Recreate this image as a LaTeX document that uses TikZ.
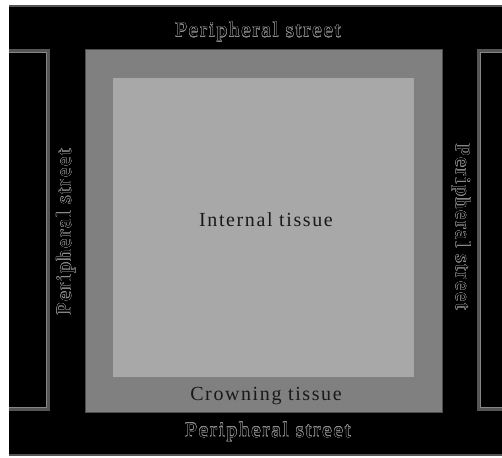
\documentclass[tikz,border=0pt]{standalone}
\usepackage{fontspec}
\setmainfont{Liberation Serif}
\newfontfamily\streetfont[LetterSpace=9]{Liberation Serif}
\newfontfamily\tissuefont[LetterSpace=8]{Liberation Serif}
\usepackage{contour}
\contourlength{0.35pt}
\usetikzlibrary{positioning}

\definecolor{crowngray}{RGB}{128,128,128}
\definecolor{innergray}{RGB}{168,168,168}
\definecolor{edgegray}{RGB}{85,85,85}
\definecolor{edgelight}{RGB}{135,135,135}
\definecolor{outlinegray}{RGB}{140,140,140}

\begin{document}
\begin{tikzpicture}[x=1pt,y=-1pt,
    streetlabel/.style={font=\streetfont\fontsize{21}{21}\selectfont, text=black, inner sep=0pt},
    tissuelabel/.style={font=\tissuefont\fontsize{20}{20}\selectfont, text=black!90, inner sep=0pt},
    blockedge/.style={draw=edgegray, line width=3pt},
    blockinner/.style={draw=edgelight, line width=0.8pt}]
    \useasboundingbox (0,0) rectangle (502,457);

    % Fond
    \fill[white] (0,0) rectangle (502,457);
    \fill[black] (9,6) rectangle (502,455);
    \draw[edgegray, line width=2pt] (9,6) -- (502,6);
    \draw[edgegray, line width=1.5pt] (9,455) -- (502,455);

    % Ilots voisins
    \draw[blockedge] (9,51) -- (48,51) -- (48,409) -- (9,409);
    \draw[blockinner] (9,52.5) -- (46,52.5) -- (46,407.5) -- (9,407.5);
    \draw[blockedge] (502,51) -- (478,51) -- (478,409) -- (502,409);
    \draw[blockinner] (502,52.5) -- (480,52.5) -- (480,407.5) -- (502,407.5);

    % Ilot central
    \filldraw[fill=crowngray, draw=black!70, line width=1pt] (85,50) rectangle (442,412);
    \fill[innergray] (113,78) rectangle (414,377);

    % Textes
    \node[tissuelabel, anchor=base] (internal) at (266,226) {Internal tissue};
    \node[tissuelabel, anchor=base] (crowning) at (266,400) {Crowning tissue};
    \node[streetlabel, anchor=base] (northstreet) at (258,37) {\contour{outlinegray}{Peripheral street}};
    \node[streetlabel, anchor=base] (southstreet) at (268,437) {\contour{outlinegray}{Peripheral street}};
    \node[streetlabel, rotate=90] (weststreet) at (66,232) {\contour{outlinegray}{Peripheral street}};
    \node[streetlabel, rotate=-90] (eaststreet) at (461,227) {\contour{outlinegray}{Peripheral street}};
\end{tikzpicture}
\end{document}
